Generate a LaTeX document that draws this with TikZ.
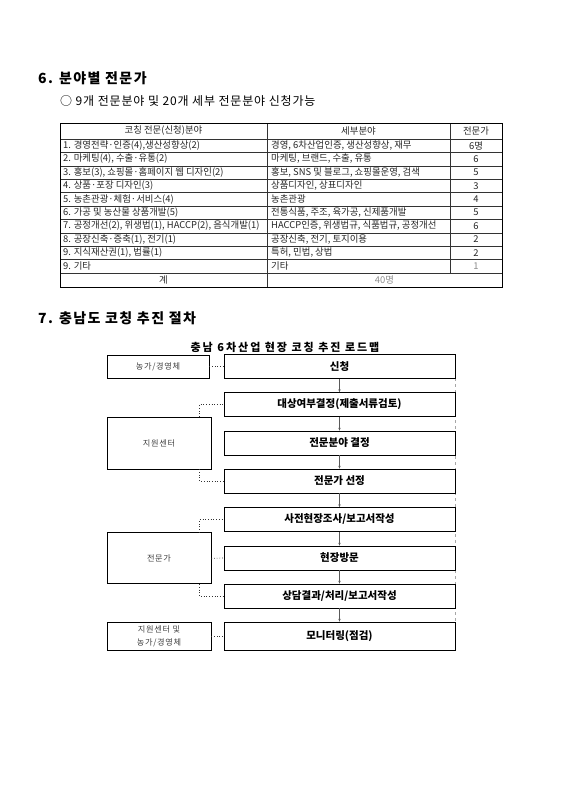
\documentclass[tikz,border=0pt]{standalone}
\usepackage{fontspec}
\setmainfont{Noto Sans CJK KR}
\usetikzlibrary{positioning,arrows.meta,backgrounds}

\tikzset{
  heading/.style={anchor=west, inner sep=0pt,
        font=\bfseries\fontsize{14}{16}\selectfont\addfontfeature{LetterSpace=10}},
  cellL/.style={anchor=west, inner sep=0pt, font=\fontsize{9.4}{10}\selectfont, text=black!85},
  cellC/.style={anchor=center, inner sep=0pt, font=\fontsize{9.4}{10}\selectfont, text=black!85},
  stepbox/.style={draw=black, line width=0.7pt, minimum width=231pt, minimum height=24pt,
        inner sep=0pt, font=\bfseries\fontsize{10.5}{12}\selectfont},
  actorbox/.style={draw=black, line width=0.7pt, minimum width=104pt, inner sep=0pt,
        align=center, font=\fontsize{8.2}{13}\selectfont\addfontfeature{LetterSpace=8}, text=black!75},
  flowarrow/.style={-{Stealth[length=3pt,width=2.4pt]}, line width=0.4pt, black!65},
  linkdot/.style={dotted, line width=0.7pt, black!80},
}

\begin{document}
\begin{tikzpicture}[x=1pt,y=-1pt]
  \useasboundingbox (0,0) rectangle (560,793);

  % section 6
  \node[heading] (h6) at (38,78) {6. 분야별 전문가};
  \node[anchor=west, inner sep=0pt, font=\fontsize{12}{14}\selectfont\addfontfeature{LetterSpace=7}]
        (sub6) at (60,101) {○ 9개 전문분야 및 20개 세부 전문분야 신청가능};

  % table grid
  \draw[line width=0.5pt, black!80]
    \foreach \k in {1,...,10} { (60,139+13.4*\k) -- (502,139+13.4*\k) };
  \draw[line width=0.5pt, black!80] (60,139) -- (502,139);
  \draw[line width=0.5pt, black!80] (267,123) -- (267,287);
  \draw[line width=0.5pt, black!80] (450,123) -- (450,273);
  \draw[line width=0.9pt] (60,123) rectangle (502,287);

  \node[cellC] (th1) at (163.5,131) {코칭 전문(신청)분야};
  \node[cellC] (th2) at (358.5,131) {세부분야};
  \node[cellC] (th3) at (476,131) {전문가};

  \foreach \ca/\cb/\cc [count=\k] in {
      {1. 경영전략·인증(4),생산성향상(2)}/{경영, 6차산업인증, 생산성향상, 재무}/{6명},
      {2. 마케팅(4), 수출·유통(2)}/{마케팅, 브랜드, 수출, 유통}/{6},
      {3. 홍보(3), 쇼핑몰·홈페이지 웹 디자인(2)}/{홍보, SNS 및 블로그, 쇼핑몰운영, 검색}/{5},
      {4. 상품·포장 디자인(3)}/{상품디자인, 상표디자인}/{3},
      {5. 농촌관광·체험·서비스(4)}/{농촌관광}/{4},
      {6. 가공 및 농산물 상품개발(5)}/{전통식품, 주조, 육가공, 신제품개발}/{5},
      {7. 공정개선(2), 위생법(1), HACCP(2), 음식개발(1)}/{HACCP인증, 위생법규, 식품법규, 공정개선}/{6},
      {8. 공장신축·증축(1), 전기(1)}/{공장신축, 전기, 토지이용}/{2},
      {9. 지식재산권(1), 법률(1)}/{특허, 민법, 상법}/{2},
      {9. 기타}/{기타}/{\color{black!45}1}} {
    \node[cellL] (ca\k) at (63,139+13.4*\k-6.9) {\ca};
    \node[cellL] (cb\k) at (271,139+13.4*\k-6.9) {\cb};
    \node[cellC] (cc\k) at (476,139+13.4*\k-6.9) {\cc};
  }
  \node[cellC] (sum1) at (163.5,280) {계};
  \node[cellC, text=black!45] (sum2) at (384.5,280) {40명};

  % section 7
  \node[heading] (h7) at (38,318) {7. 충남도 코칭 추진 절차};
  \node[inner sep=0pt, font=\bfseries\fontsize{11}{13}\selectfont\addfontfeature{LetterSpace=18}]
        (title) at (285,347) {충남 6차산업 현장 코칭 추진 로드맵};

  % steps
  \node[stepbox] (s1) at (339.5,366.5) {신청};
  \node[stepbox] (s2) at (339.5,404.5) {대상여부결정(제출서류검토)};
  \node[stepbox] (s3) at (339.5,443) {전문분야 결정};
  \node[stepbox] (s4) at (339.5,481) {전문가 선정};
  \node[stepbox] (s5) at (339.5,519.5) {사전현장조사/보고서작성};
  \node[stepbox] (s6) at (339.5,558) {현장방문};
  \node[stepbox] (s7) at (339.5,596) {상담결과/처리/보고서작성};
  \node[stepbox, minimum height=28pt] (s8) at (339.5,636) {모니터링(점검)};

  % actors
  \node[actorbox, minimum width=102pt, minimum height=23pt] (farm) at (158,366.5) {농가/경영체};
  \node[actorbox, minimum height=52pt] (center) at (159,443) {지원센터};
  \node[actorbox, minimum height=51pt] (expert) at (159,558.3) {전문가};
  \node[actorbox, minimum height=28pt] (both) at (159,636) {지원센터 및\\농가/경영체};

  \foreach \a/\b in {s1/s2,s2/s3,s3/s4,s4/s5,s5/s6,s6/s7,s7/s8}
    \draw[flowarrow] (\a) -- (\b);

  \draw[linkdot] (farm.east) -- (s1.west);
  \draw[linkdot] ([xshift=-12pt]center.north east) |- (s2.west);
  \draw[linkdot] ([xshift=-12pt]center.south east) |- (s4.west);
  \draw[linkdot] ([xshift=-12pt]expert.north east) |- (s5.west);
  \draw[linkdot] (expert.east) -- (s6.west);
  \draw[linkdot] ([xshift=-12pt]expert.south east) |- (s7.west);
  \draw[linkdot] (both.east) -- (s8.west);

  \begin{scope}[on background layer]
    \draw[black!35, dashed, line width=0.6pt] (s1.north east) -- (s8.south east);
  \end{scope}
\end{tikzpicture}
\end{document}
